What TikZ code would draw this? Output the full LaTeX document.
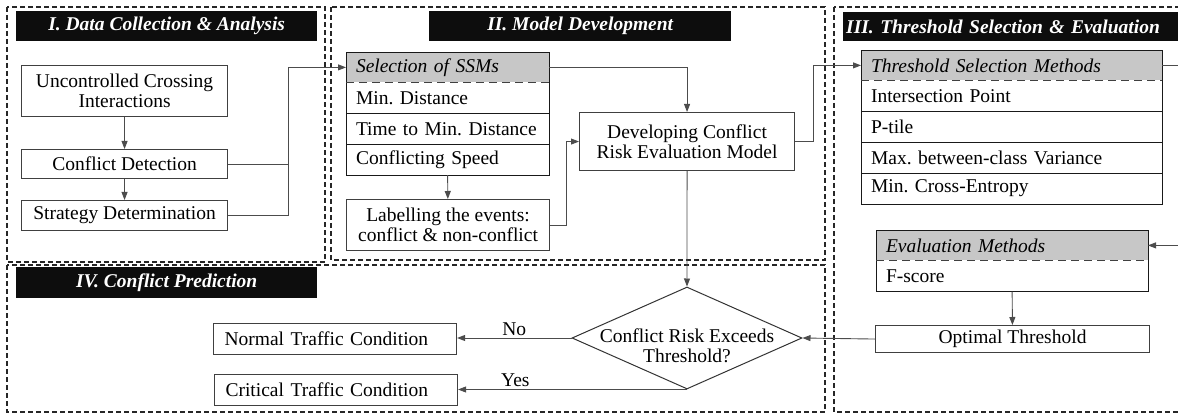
\documentclass[tikz,border=0pt]{standalone}
\usepackage{fontspec}
\setmainfont{Liberation Serif}
\usetikzlibrary{positioning,arrows.meta,shapes.geometric}

\newcommand\figfont{\fontsize{19.5}{20}\selectfont\frenchspacing\hyphenpenalty=10000 }

\tikzset{
  panel/.style={draw=black!85,line width=1.1pt,dash pattern=on 5pt off 3pt},
  titlebar/.style={fill=black!95,text=white,font=\figfont\bfseries\itshape,inner sep=0pt,anchor=north west},
  procbox/.style={draw=black!75,line width=1.1pt,align=center,inner sep=0pt,anchor=north west,font=\figfont},
  sidebox/.style={procbox,text width=221pt,inner xsep=11pt,align=left},
  tabrow/.style={draw=black!90,line width=0.9pt,text width=#1,align=left,inner xsep=10pt,inner ysep=0pt,outer sep=0pt,minimum height=30.8pt,anchor=north west,font=\figfont},
  tabhead/.style={tabrow=#1,fill=black!22,font=\figfont\itshape},
  headsep/.style={draw=black!75,line width=1.1pt,dash pattern=on 8pt off 5pt},
  conn/.style={draw=black!70,line width=0.9pt},
  arr/.style={conn,-{Triangle[length=8pt,width=6pt]}},
}

\begin{document}
\begin{tikzpicture}[x=1pt,y=-1pt]
\useasboundingbox (0,0) rectangle (1178,414);
\clip (0,0) rectangle (1178,414);

% panels
\draw[panel] (7,7) rectangle (325,262);
\draw[panel] (331,7) rectangle (825,260);
\draw[panel] (834,7) rectangle (1190,412);
\draw[panel] (7,265) rectangle (825,412);

% title bars
\node[titlebar,minimum width=301pt,minimum height=30pt] (bar1) at (16,11) {I. Data Collection \& Analysis};
\node[titlebar,minimum width=302pt,minimum height=30pt] (bar2) at (429,11) {II. Model Development};
\node[titlebar,text width=341pt,inner xsep=3pt,align=left,minimum height=29pt] (bar3) at (843,12) {III. Threshold Selection \& Evaluation};
\node[titlebar,minimum width=301pt,minimum height=31pt] (bar4) at (16,267) {IV. Conflict Prediction};

% I. data collection
\node[procbox,minimum width=206pt,minimum height=51pt] (uci) at (21,65) {Uncontrolled Crossing\\Interactions};
\node[procbox,minimum width=206pt,minimum height=29pt] (cd) at (21,149) {Conflict Detection};
\node[procbox,minimum width=206pt,minimum height=30pt] (sd) at (21,200) {Strategy Determination};

% II. model development
\node[tabhead=183pt] (ssmh) at (346,52) {Selection of SSMs};
\node[tabrow=183pt,below=0pt of ssmh] (ssm1) {Min. Distance};
\node[tabrow=183pt,below=0pt of ssm1] (ssm2) {Time to Min. Distance};
\node[tabrow=183pt,below=0pt of ssm2] (ssm3) {Conflicting Speed};
\draw[white,line width=1.3pt] (ssmh.south west) -- (ssmh.south east);
\draw[headsep] (ssmh.south west) -- (ssmh.south east);

\node[procbox,minimum width=203pt,minimum height=51pt] (lab) at (346,199) {Labelling the events:\\conflict \& non-conflict};
\node[procbox,minimum width=215pt,minimum height=58pt] (dev) at (579,112) {Developing Conflict\\Risk Evaluation Model};

% III. threshold selection
\node[tabhead=281pt] (thh) at (861,50) {Threshold Selection Methods};
\node[tabrow=281pt,below=0pt of thh] (th1) {Intersection Point};
\node[tabrow=281pt,below=0pt of th1] (th2) {P-tile};
\node[tabrow=281pt,below=0pt of th2] (th3) {Max. between-class Variance};
\node[tabrow=281pt,below=0pt of th3] (th4) {Min. Cross-Entropy};
\draw[white,line width=1.3pt] (thh.south west) -- (thh.south east);
\draw[headsep] (thh.south west) -- (thh.south east);

\node[tabhead=252pt] (evh) at (876,230) {Evaluation Methods};
\node[tabrow=252pt,below=0pt of evh] (ev1) {F-score};
\draw[white,line width=1.3pt] (evh.south west) -- (evh.south east);
\draw[headsep] (evh.south west) -- (evh.south east);

\node[procbox,minimum width=274pt,minimum height=27pt] (opt) at (875,325) {Optimal Threshold};

% IV. conflict prediction
\node[diamond,draw=black!80,line width=1pt,minimum width=230pt,minimum height=102pt,inner sep=0pt] (dec) at (687,338) {};
\node[align=center,font=\figfont,inner sep=0pt] (dectxt) at (687,346) {Conflict Risk Exceeds\\Threshold?};
\node[sidebox,minimum height=31pt] (nt) at (213,323) {Normal Traffic Condition};
\node[sidebox,minimum height=31pt] (ct) at (214,374) {Critical Traffic Condition};

% connectors
\coordinate (jn) at (288,0);
\draw[arr] (uci) -- (cd);
\draw[arr] (cd) -- (sd);
\draw[conn] (cd.east) -- (cd.east -| jn);
\draw[arr] (sd.east) -| (jn |- ssmh.west) -- (ssmh.west);
\draw[arr] (ssmh.east) -| (dev.north);
\draw[arr] (ssm3) -- (lab);
\draw[arr] (lab.east) -- ++(16,0) |- (dev.west);
\draw[arr] (dev.east) -- ++(18,0) |- (thh.west);
\draw[arr] (dev.south) -- (dec.north);
\draw[arr] (thh.east) -- ++(30,0) |- (evh.east);
\draw[arr] (ev1) -- (opt);
\draw[arr] (opt.west) -- (dec.east);
\draw[arr] (dec.west) -- node[above,font=\figfont,inner sep=2pt] (nolbl) {No} (dec.west -| nt.east);
\draw[arr] (dec.south) -- node[above,pos=0.75,font=\figfont,inner sep=2pt] (yeslbl) {Yes} (dec.south -| ct.east);
\end{tikzpicture}
\end{document}
